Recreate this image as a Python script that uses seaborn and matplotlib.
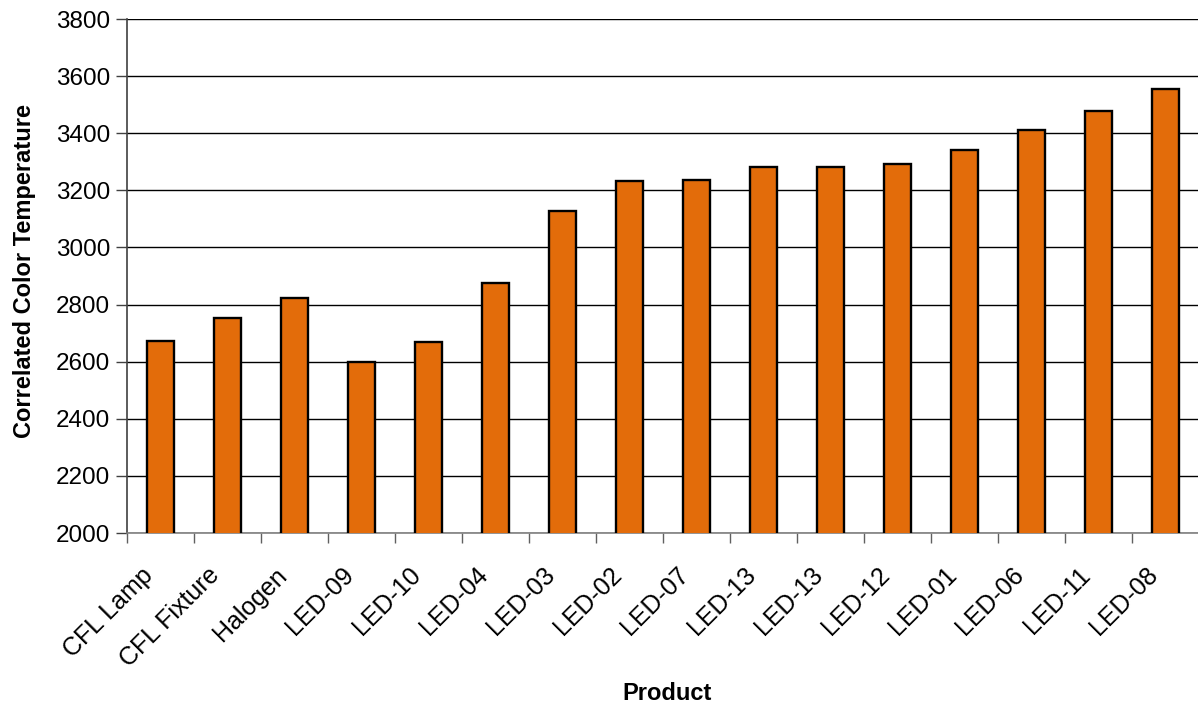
import numpy as np
import pandas as pd
import matplotlib
matplotlib.use("Agg")
import matplotlib.pyplot as plt
import matplotlib.transforms as mtransforms
import seaborn as sns

# Correlated color temperature by product
products = ["CFL Lamp", "CFL Fixture", "Halogen", "LED-09", "LED-10", "LED-04",
            "LED-03", "LED-02", "LED-07", "LED-13", "LED-13", "LED-12",
            "LED-01", "LED-06", "LED-11", "LED-08"]
cct = [2672, 2753, 2822, 2598, 2670, 2876, 3127, 3233, 3238, 3283, 3283,
       3294, 3342, 3410, 3477, 3556]
y_ticks = [2000, 2200, 2400, 2600, 2800, 3000, 3200, 3400, 3600, 3800]

sns.set_theme(style="white")
plt.rcParams["font.family"] = ["Liberation Sans", "DejaVu Sans"]
plt.rcParams["text.color"] = "black"
plt.rcParams["xtick.color"] = "black"
plt.rcParams["ytick.color"] = "black"

df = pd.DataFrame({"slot": range(len(products)), "product": products, "cct": cct})

fig = plt.figure(figsize=(11.98, 7.06), dpi=100)
ax = fig.add_axes([0.106, 0.245, 0.8948, 0.728])

sns.barplot(data=df, x="slot", y="cct", color="#E36C0A", saturation=1,
            width=0.41, edgecolor="black", linewidth=1.7, ax=ax, zorder=3)

n = len(products)
ax.set_xlim(-0.5, n - 0.5)
ax.set_ylim(y_ticks[0], y_ticks[-1])
ax.set_yticks(y_ticks)
ax.yaxis.grid(True, color="black", linewidth=1.0, zorder=0)
ax.set_axisbelow(True)

# tick marks at slot boundaries; category names drawn below each slot
ax.set_xticks([])
ax.set_xticks(np.arange(-0.5, n - 1, 1.0), minor=True)
ax.tick_params(axis="x", which="minor", length=7, width=1, color="#606060",
               direction="out", bottom=True, labelbottom=False)
label_tf = (mtransforms.blended_transform_factory(ax.transData, ax.transAxes)
            + mtransforms.ScaledTranslation(-0.20, -0.30, fig.dpi_scale_trans))
for i, name in enumerate(products):
    ax.text(i, 0, name, transform=label_tf, rotation=45, ha="right", va="top",
            rotation_mode="anchor", fontsize=18)

ax.tick_params(axis="y", length=8, width=1, color="#404040", direction="out",
               left=True, labelsize=17.5, pad=4)

for side in ["top", "right"]:
    ax.spines[side].set_visible(False)
ax.spines["left"].set_color("#404040")
ax.spines["left"].set_linewidth(1.2)
ax.spines["bottom"].set_color("#808080")
ax.spines["bottom"].set_linewidth(1.2)

ax.set_xlabel("")
ax.set_ylabel("")
fig.text(0.557, 0.0085, "Product", ha="center", va="baseline",
         fontsize=17, fontweight="bold")
fig.text(0.0205, 0.616, "Correlated Color Temperature", ha="center", va="center",
         rotation=90, fontsize=17, fontweight="bold")

fig.savefig("out.png", dpi=100)
